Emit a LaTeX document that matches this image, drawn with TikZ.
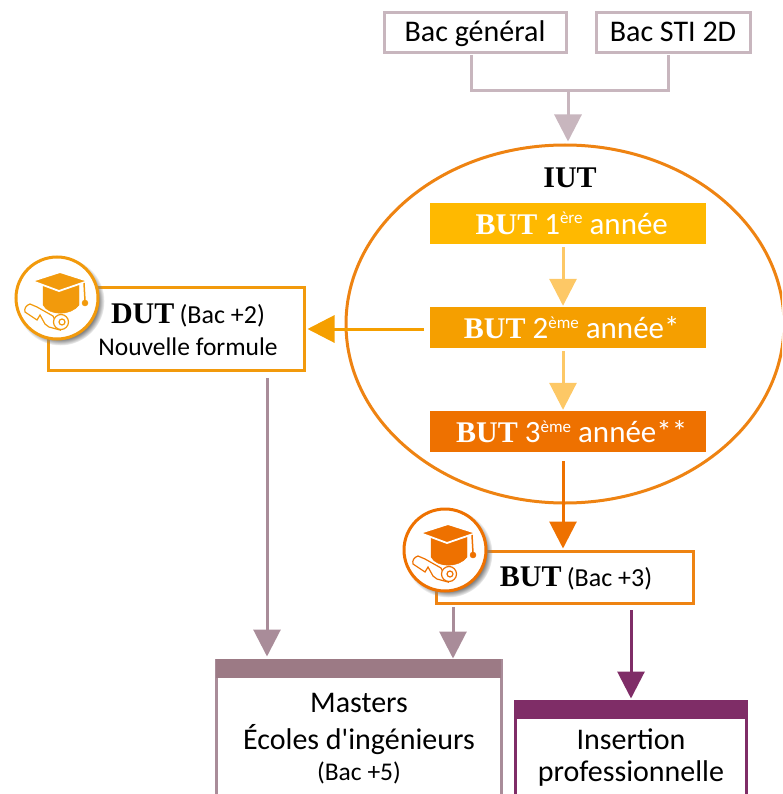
\documentclass[tikz,border=0pt]{standalone}
\usepackage{fontspec}
\setmainfont{Carlito}
\newfontfamily\titlefont{Liberation Serif}
\usetikzlibrary{arrows.meta,shapes.geometric,shadows}
\definecolor{bacpink}{HTML}{C8B6BE}
\definecolor{iutorange}{HTML}{EE8312}
\definecolor{yearone}{HTML}{FFB900}
\definecolor{yeartwo}{HTML}{F59F00}
\definecolor{yearthree}{HTML}{EE7100}
\definecolor{yearlight}{HTML}{FDC866}
\definecolor{dutorange}{HTML}{F29A0C}
\definecolor{mastermauve}{HTML}{9C7A85}
\definecolor{masterline}{HTML}{A98C99}
\definecolor{jobpurple}{HTML}{7F2D67}
\newcommand{\sz}[1]{\fontsize{#1}{#1}\selectfont}
\newcommand{\ttl}[1]{{\titlefont\bfseries\sz{30}#1}}
\newcommand{\yr}[1]{\raisebox{10pt}{\sz{17}#1}}
\tikzset{
  bacbox/.style={draw=bacpink, line width=3pt, fill=white, inner sep=0pt, minimum height=40pt, text height=24pt, text depth=6pt, text=black},
  yearbox/.style={inner sep=0pt, minimum width=276pt, minimum height=41pt, text height=27pt, text depth=6pt, text=white, font=\sz{31}},
  resultbox/.style={draw=#1, line width=3pt, fill=white, inner sep=0pt},
  headbar/.style={fill=#1, inner sep=0pt, minimum height=19pt, anchor=north},
  plain/.style={inner sep=0pt, align=center, text=black},
  flow/.style={draw=#1, line width=3pt, -{Triangle[length=27pt,width=27pt,fill=#1]}},
  badge/.style={circle, draw=#1, line width=3pt, fill=white, minimum size=82pt, inner sep=0pt,
    circular drop shadow={shadow xshift=3pt, shadow yshift=-3pt, shadow scale=1.08}},
  gradcap/.pic={
    \fill[pic actions] (-14,-14) -- (22,-14) -- (22,7) .. controls (14,18) and (-8,18) .. (-14,7) -- cycle;
    \path[pic actions, draw=white, line width=1.8pt] (-25,-17) -- (3,-26) -- (31,-17) -- (2,-7) -- cycle;
    \draw[pic actions, line width=1.5pt] (27,-15) -- (28,3);
    \fill[pic actions] (28,5) circle (3);
    \draw[pic actions, fill=white, line width=1.2pt] (-27,6) .. controls (-31,7) and (-33,11) .. (-32,14)
      -- (-20,22) -- (-17,17) -- (-12,26) -- (-8,29) -- (3,32) -- (-4,18) -- (-20,9) -- cycle;
    \draw[pic actions, fill=white, line width=1.2pt] (4,24) circle (7.5);
    \draw[pic actions, fill=none, line width=1.2pt] (5,24) circle (3);
  }
}
\begin{document}
\begin{tikzpicture}[x=1pt,y=-1pt]
  \useasboundingbox (0,0) rectangle (782,794);
  \clip (0,0) rectangle (782,794);

  % entry
  \node[bacbox, minimum width=182pt, font=\sz{30}] (general) at (475,33) {Bac général};
  \node[bacbox, minimum width=154pt, font=\sz{30}] (sti) at (673,33) {Bac STI 2D};

  % iut
  \node[ellipse, draw=iutorange, line width=3pt, minimum width=438pt, minimum height=358pt, inner sep=0pt] (iut) at (565,324) {};
  \node[plain] (iuttitle) at (570,178) {\ttl{IUT}};
  \node[yearbox, fill=yearone] (year1) at (568,223.5) {{\titlefont\bfseries\sz{30} BUT} 1\yr{ère} année};
  \node[yearbox, fill=yeartwo] (year2) at (568,327.5) {{\titlefont\bfseries\sz{30} BUT} 2\yr{ème} année*};
  \node[yearbox, fill=yearthree] (year3) at (568,431.5) {{\titlefont\bfseries\sz{30} BUT} 3\yr{ème} année**};

  % diplomas
  \node[resultbox=dutorange, minimum width=256pt, minimum height=83pt] (dut) at (176,328.5) {};
  \node[plain] (duttext) at (188,330) {\ttl{DUT}\hspace{3pt} {\sz{26}(Bac +2)}\\[10pt]{\sz{25.5}Nouvelle formule}};
  \node[resultbox=iutorange, minimum width=257pt, minimum height=52pt] (but) at (564.5,577) {};
  \node[plain] (buttext) at (576,578) {\ttl{BUT}\hspace{3pt} {\sz{26}(Bac +3)}};
  \node[badge=dutorange] (dutbadge) at (57,298) {};
  \pic[draw=dutorange, fill=dutorange] at (dutbadge) {gradcap};
  \node[badge=yearthree] (butbadge) at (445,550) {};
  \pic[draw=yearthree, fill=yearthree] at (butbadge) {gradcap};

  % outcomes
  \node[resultbox=masterline, minimum width=285pt, minimum height=160pt] (masters) at (358.5,740) {};
  \node[headbar=mastermauve, minimum width=285pt] (mastershead) at (masters.north) {};
  \node[plain] (masterstext) at (359,739) {{\sz{30}Masters}\\[10pt]{\sz{30}Écoles d\textquotesingle ingénieurs}\\[7pt]{\sz{25.5}(Bac +5)}};
  \node[resultbox=jobpurple, minimum width=231pt, minimum height=120pt] (job) at (630.5,761) {};
  \node[headbar=jobpurple, minimum width=231pt] (jobhead) at (job.north) {};
  \node[plain] (jobtext) at (631,758) {{\sz{30}Insertion}\\[10pt]{\sz{30}professionnelle}};

  % connectors
  \coordinate (merge) at (568,91);
  \coordinate (generalout) at (471,52);
  \coordinate (stiout) at (668,52);
  \coordinate (dutout) at (267,370);
  \coordinate (yearout) at (430,329);
  \coordinate (butmasters) at (453,603);
  \coordinate (butjob) at (631,603);
  \draw[draw=bacpink, line width=3pt, shorten <=3pt] (generalout) |- (merge);
  \draw[draw=bacpink, line width=3pt, shorten <=3pt] (stiout) |- (merge);
  \draw[flow=bacpink, shorten >=2pt] (merge) -- (merge |- iut.north);
  \draw[flow=yearlight, shorten <=3pt, shorten >=1pt] (year1.south -| 563,0) -- (year2.north -| 563,0);
  \draw[flow=yearlight, shorten <=3pt, shorten >=1pt] (year2.south -| 563,0) -- (year3.north -| 563,0);
  \draw[flow=yeartwo, shorten <=6pt, shorten >=2pt] (yearout) -- (yearout -| dut.east);
  \draw[flow=yearthree, shorten <=9pt, shorten >=1pt] (year3.south -| 563,0) -- (but.north -| 563,0);
  \draw[flow=masterline, shorten <=8pt, shorten >=2pt] (dutout) -- (dutout |- masters.north);
  \draw[flow=masterline, shorten <=4pt, shorten >=0pt] (butmasters) -- (butmasters |- masters.north);
  \draw[flow=jobpurple, shorten <=7pt, shorten >=1pt] (butjob) -- (butjob |- job.north);
\end{tikzpicture}
\end{document}
